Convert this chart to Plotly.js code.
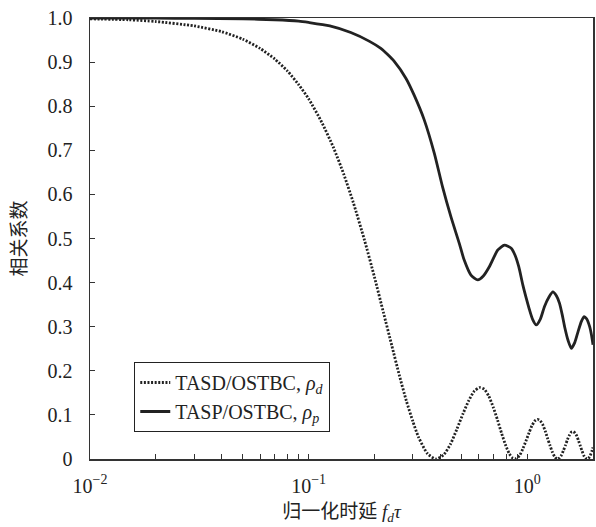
<!DOCTYPE html>
<html>
<head>
<meta charset="utf-8">
<script src="https://cdn.plot.ly/plotly-3.0.1.min.js"></script>
<style>html,body{margin:0;padding:0;background:#fff;}#chart{width:596px;height:527px;}</style>
</head>
<body>
<div id="chart"></div>
<script>
// TASD/OSTBC, rho_d (dotted)
var xD = [0.01,0.015,0.02,0.03,0.04,0.05,0.06,0.07,0.08,0.09,0.1,0.115,0.13,0.145,0.16,0.18,0.2,0.22,0.24,0.26,0.28,0.3,
  0.318,0.35,0.382,0.414,0.446,0.477,0.509,0.541,0.573,0.605,0.637,0.668,0.7,0.732,0.764,0.796,0.828,0.859,0.891,0.923,0.955,0.987,
  1.019,1.05,1.082,1.114,1.146,1.178,1.21,1.241,1.273,1.305,1.337,1.369,1.401,1.432,1.464,1.496,1.528,1.56,1.592,1.623,1.655,1.687,
  1.719,1.751,1.783,1.814,1.846,1.878,1.91,1.942,1.974,2.0];
var yD = [0.998,0.996,0.992,0.982,0.969,0.952,0.931,0.907,0.880,0.849,0.817,0.763,0.706,0.645,0.582,0.497,0.413,0.332,0.258,0.190,0.132,0.085,
  0.050,0.012,0.000,0.009,0.034,0.068,0.103,0.133,0.154,0.162,0.158,0.142,0.117,0.088,0.058,0.032,0.012,0.002,0.001,0.008,0.023,0.041,
  0.059,0.075,0.086,0.090,0.087,0.078,0.063,0.046,0.030,0.015,0.005,0.000,0.002,0.008,0.019,0.031,0.044,0.054,0.061,0.062,0.059,0.052,
  0.041,0.029,0.018,0.008,0.002,0.000,0.002,0.008,0.017,0.026];
// TASP/OSTBC, rho_p (solid)
var xP = [0.01,0.02,0.03,0.05,0.07,0.09,0.1,0.125,0.156,0.19,0.214,0.23,0.246,0.279,0.304,0.338,0.376,0.41,0.448,0.489,0.515,0.553,0.594,
  0.63,0.671,0.734,0.787,0.845,0.88,0.915,0.955,0.99,1.025,1.06,1.1,1.15,1.2,1.26,1.311,1.36,1.406,1.445,1.483,1.54,1.592,1.65,1.709,
  1.77,1.821,1.87,1.931,1.97,2.0];
var yP = [1.0,0.9995,0.999,0.998,0.996,0.993,0.990,0.982,0.967,0.947,0.931,0.917,0.902,0.863,0.825,0.769,0.693,0.617,0.549,0.489,0.451,0.417,0.406,
  0.415,0.436,0.474,0.485,0.478,0.462,0.436,0.395,0.365,0.338,0.316,0.304,0.318,0.346,0.368,0.379,0.370,0.353,0.328,0.300,0.268,0.251,0.264,0.289,
  0.312,0.323,0.318,0.300,0.280,0.259];
var yTickVals = [0,0.1,0.2,0.3,0.4,0.5,0.6,0.7,0.8,0.9,1.0];
var yTickText = ['0','0.1','0.2','0.3','0.4','0.5','0.6','0.7','0.8','0.9','1.0'];
var xTickVals = [0.01,0.1,1];
var xTickText = ['10<sup>\u22122</sup>','10<sup>\u22121</sup>','10<sup>0</sup>'];
var xMinorVals = [0.02,0.03,0.04,0.05,0.06,0.07,0.08,0.09,0.2,0.3,0.4,0.5,0.6,0.7,0.8,0.9,2];

var serif = 'Liberation Serif, "Noto Sans CJK SC", serif';
var traces = [
  {x:xD, y:yD, type:'scatter', mode:'lines', name:'TASD/OSTBC, <i>\u03c1</i><sub><i>d</i></sub>',
   line:{color:'#222', width:2.8, dash:'2px,1.6px', shape:'spline', smoothing:0.6}},
  {x:xP, y:yP, type:'scatter', mode:'lines', name:'TASP/OSTBC, <i>\u03c1</i><sub><i>p</i></sub>',
   line:{color:'#222', width:2.8, shape:'spline', smoothing:0.6}}
];
var layout = {
  width:596, height:527,
  margin:{l:90, r:3, t:18, b:68},
  paper_bgcolor:'#fff', plot_bgcolor:'#fff',
  font:{family:serif, color:'#222', size:20},
  showlegend:true,
  legend:{x:0.088, y:0.22, xanchor:'left', yanchor:'top', bgcolor:'#fff', bordercolor:'#222', borderwidth:1,
    font:{family:serif, size:20, color:'#222'}, tracegroupgap:0, itemwidth:30},
  xaxis:{type:'log', range:[-2, Math.log10(2)], showline:true, mirror:true, linecolor:'#333', linewidth:1.5,
    showgrid:false, zeroline:false, ticks:'inside', ticklen:5, tickwidth:1, tickcolor:'#333',
    tickmode:'array', tickvals:xTickVals, ticktext:xTickText, tickfont:{family:serif, size:20, color:'#222'},
    ticklabelstandoff:8,
    minor:{tickmode:'array', tickvals:xMinorVals, ticks:'inside', ticklen:5, tickwidth:1, tickcolor:'#333', showgrid:false},
    title:{text:'\u5f52\u4e00\u5316\u65f6\u5ef6 <i>f</i><sub><i>d</i></sub><i>\u03c4</i>', font:{family:serif, size:19, color:'#222'}, standoff:9}},
  yaxis:{range:[0,1], showline:true, mirror:true, linecolor:'#333', linewidth:1.5,
    showgrid:false, zeroline:false, ticks:'inside', ticklen:5, tickwidth:1, tickcolor:'#333',
    tickmode:'array', tickvals:yTickVals, ticktext:yTickText, tickfont:{family:serif, size:20, color:'#222'},
    ticklabelstandoff:12,
    title:{text:'\u76f8\u5173\u7cfb\u6570', font:{family:serif, size:19, color:'#222'}, standoff:16}}
};
Plotly.newPlot('chart', traces, layout, {displayModeBar:false, staticPlot:true});
</script>
</body>
</html>
